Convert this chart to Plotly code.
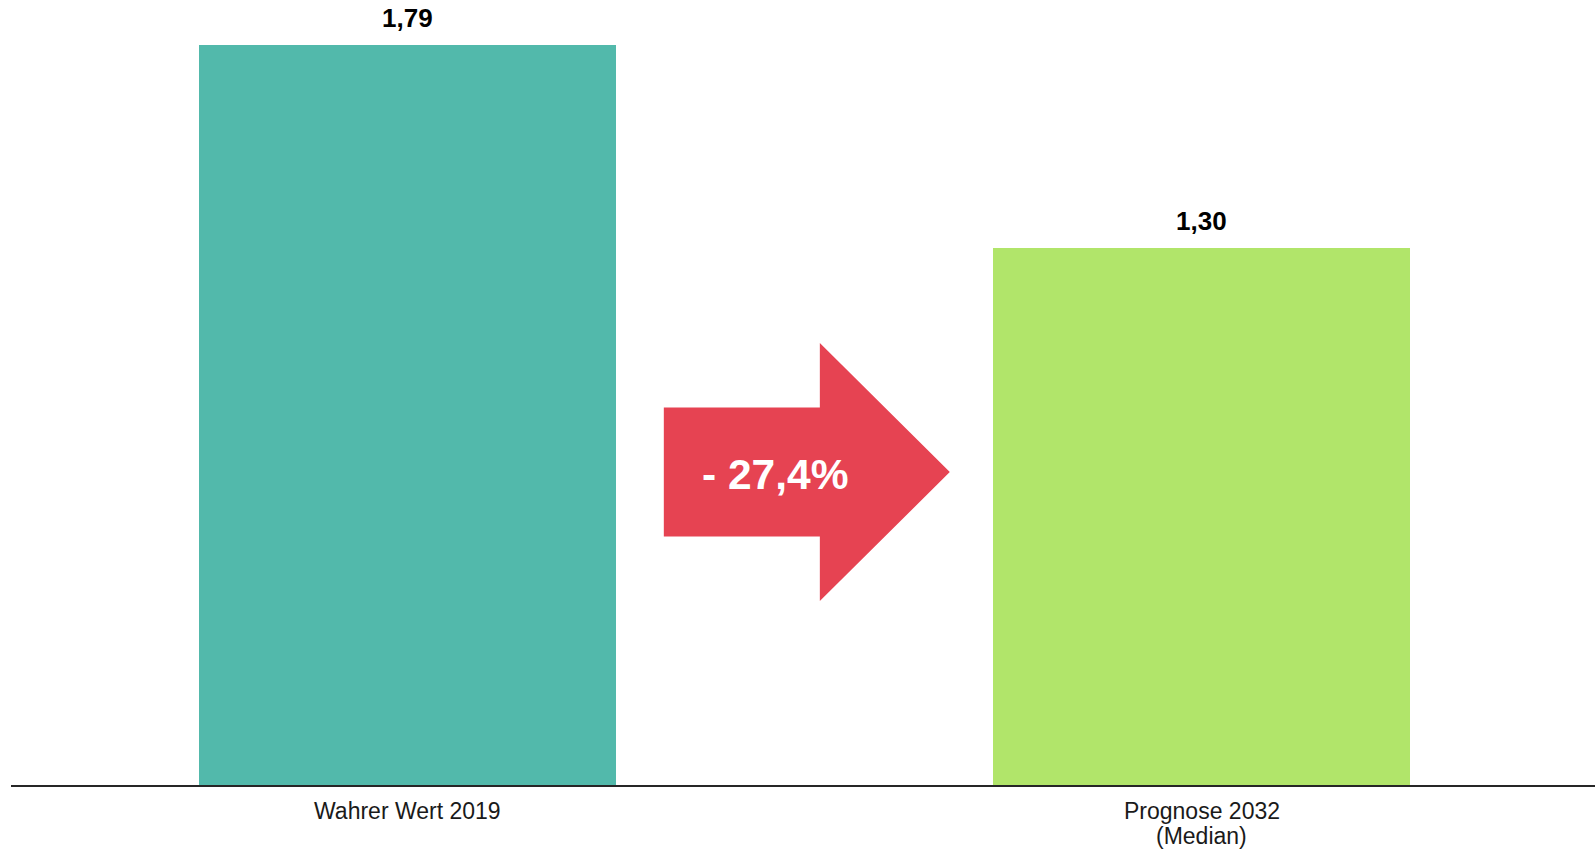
import plotly.graph_objects as go

category_lines = [["Wahrer Wert 2019"], ["Prognose 2032", "(Median)"]]
values = [1.79, 1.30]
bar_colors = ["#52B9AB", "#B1E56A"]
change_label = "- 27,4%"

FONT = "Liberation Sans, Arial, sans-serif"

fig = go.Figure()
fig.add_trace(go.Bar(
    x=[0, 1], y=values,
    marker=dict(color=bar_colors, line=dict(width=0)),
    width=0.525,
    hoverinfo="skip",
))

# value labels above bars
for i, v in enumerate(values):
    fig.add_annotation(x=i, y=v, xref="x", yref="y", yanchor="bottom",
                       text="<b>" + f"{v:.2f}".replace(".", ",") + "</b>",
                       showarrow=False, yshift=10,
                       font=dict(family=FONT, size=26, color="#000000"))

# category labels (tight line spacing like the reference)
for i, lines in enumerate(category_lines):
    for j, line in enumerate(lines):
        fig.add_annotation(x=i, y=0, xref="x", yref="paper", yanchor="middle",
                           text=line, showarrow=False, yshift=-26 - 25 * j,
                           font=dict(family=FONT, size=23, color="#1a1a1a"))

# arrow between the bars (data coordinates)
ax0, ax1, ax2 = 0.3228, 0.5192, 0.6828
yc, hr, hh = 0.757, 0.156, 0.312
path = (f"M {ax0},{yc-hr} L {ax1},{yc-hr} L {ax1},{yc-hh} L {ax2},{yc} "
        f"L {ax1},{yc+hh} L {ax1},{yc+hr} L {ax0},{yc+hr} Z")
fig.add_shape(type="path", path=path, xref="x", yref="y",
              fillcolor="#E64352", line=dict(width=0), layer="above")
fig.add_annotation(x=0.463, y=yc, xref="x", yref="y",
                   text=f"<b>{change_label}</b>", showarrow=False,
                   font=dict(family=FONT, size=42.5, color="white"), yshift=-2)

fig.update_layout(
    width=1595, height=849,
    margin=dict(l=11, r=0, t=0, b=64),
    paper_bgcolor="white", plot_bgcolor="white",
    showlegend=False,
    bargap=0,
    font=dict(family=FONT, color="#1a1a1a"),
    xaxis=dict(
        range=[-0.499, 1.495],
        tickvals=[0, 1], showticklabels=False,
        showline=True, linecolor="#262626", linewidth=1.5,
        showgrid=False, zeroline=False, ticks="",
    ),
    yaxis=dict(range=[0, 1.899], visible=False, showgrid=False, zeroline=False),
)

fig.write_html(
    "out.html",
    config={"displayModeBar": False},
    post_script="document.body.style.margin='0';document.body.style.overflow='hidden';",
)
